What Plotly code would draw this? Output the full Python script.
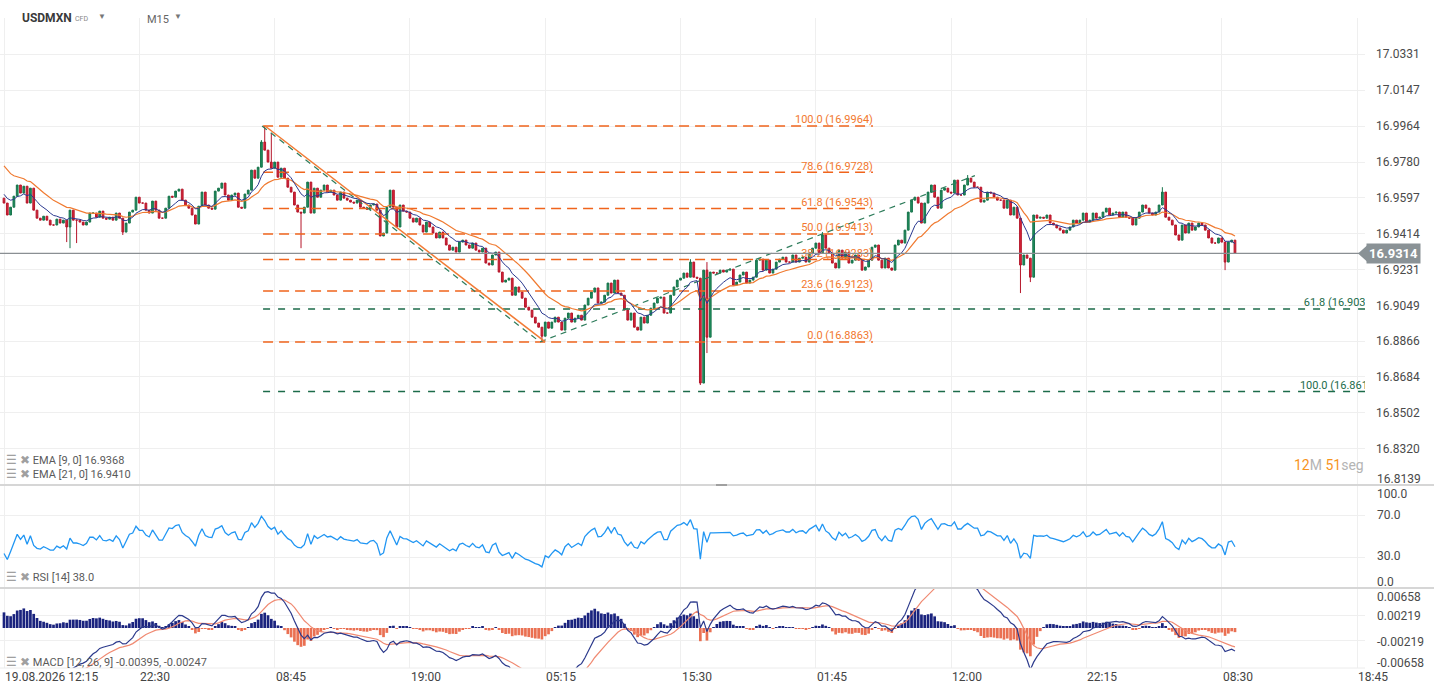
import numpy as np
import plotly.graph_objects as go

# ---------------- data ----------------
closes_a = [16.9571,16.9510,16.9550,16.9606,16.9663,16.9622,16.9657,16.9571,16.9647,16.9535,
16.9494,16.9484,16.9504,16.9484,16.9459,16.9459,16.9489,16.9469,16.9484,16.9449,
16.9535,16.9484,16.9484,16.9474,16.9459,16.9474,16.9520,16.9520,16.9499,16.9530,
16.9494,16.9489,16.9499,16.9484,16.9520,16.9494,16.9423,16.9469,16.9525,16.9535,
16.9601,16.9571,16.9571,16.9535,16.9520,16.9581,16.9535,16.9494,16.9494,16.9545,
16.9606,16.9601,16.9632,16.9642,16.9586,16.9561,16.9545,16.9510,16.9464,16.9555,
16.9627,16.9561,16.9545]
closes_b = [16.9540,16.9632,16.9647,16.9673,16.9612,16.9586,16.9612,16.9622,16.9550,16.9545,16.9617,16.9637,16.9739,16.9698,16.9754,16.9882,
16.9841,16.9780,16.9749,16.9780,16.9703,16.9749,16.9698,16.9652,16.9627,16.9561,16.9525,16.9520,16.9550,16.9678,16.9520,16.9647,
16.9601,16.9637,16.9663,16.9627,16.9637,16.9612,16.9586,16.9627,16.9596,16.9586,16.9576,16.9571,16.9586,16.9550,16.9545,16.9540,16.9561,16.9566,16.9535,
16.9403,16.9418,16.9550,16.9637,16.9550,16.9449,16.9561,16.9530,16.9525]
closes_c = [16.9494,16.9474,16.9494,16.9459,16.9423,16.9474,16.9449,16.9418,16.9393,16.9423,
16.9393,16.9357,16.9331,16.9346,16.9321,16.9372,16.9382,16.9357,16.9341,16.9367,
16.9331,16.9321,16.9341,16.9265,16.9255,16.9306,16.9321,16.9219,16.9168,16.9178,
16.9188,16.9101,16.9143,16.9117,16.9086,16.9040,16.9025,16.8989,16.8959,16.8938,
16.8892,16.8964,16.8933,16.8964,16.8989,16.8964,16.8923,16.8984,16.9010,16.8964,
16.8984,16.8999,16.8974,16.9051,16.9086,16.9117,16.9138,16.9061,16.9066,16.9101]
closes_d = [16.9163,16.9112,16.9178,16.9112,16.9101,16.9025,16.8974,16.9010,16.8938,16.8923,16.8989,16.8959,16.8999,16.9035,
16.9061,16.9086,16.9091,16.9010,16.9010,16.9101,16.9143,16.9178,16.9188,16.9214,16.9193,16.9270,16.9193,16.9188,
16.8653,16.9229,16.8887,16.9219,
16.9214,16.9214,16.9229,16.9219,16.9229,16.9234,16.9153,16.9168,16.9204,16.9219,16.9163,16.9178,16.9193,16.9280,16.9285,16.9229,
16.9280,16.9214,16.9234,16.9270,16.9285,16.9295,16.9270,16.9270,16.9306,16.9270,16.9290,16.9295,16.9270,16.9316,16.9341,16.9367,16.9316]
closes_e = [16.9408,16.9341,16.9316,16.9265,16.9240,16.9331,16.9290,16.9321,16.9265,16.9280,
16.9306,16.9280,16.9229,16.9245,16.9280,16.9346,16.9357,16.9280,16.9240,16.9290,
16.9240,16.9229,16.9357,16.9382,16.9367,16.9433,16.9525,16.9586,16.9601,16.9571,
16.9469,16.9571,16.9627,16.9663,16.9601,16.9545,16.9637,16.9647,16.9627,16.9622,
16.9688,16.9612,16.9612,16.9663,
16.9698,16.9678,16.9652,16.9652,16.9576,16.9586,16.9627,16.9622,16.9601,16.9586,
16.9586,16.9545,16.9586,16.9510,16.9550,16.9494,16.9255]
closes_f = [16.9306,16.9290,16.9193,16.9510,16.9494,16.9499,16.9494,16.9510,16.9469,16.9459,
16.9444,16.9433,16.9418,16.9433,16.9449,16.9484,16.9469,16.9484,16.9520,16.9474,
16.9484,16.9520,16.9494,16.9499,16.9525,16.9545,16.9510,16.9520,16.9525,16.9499,
16.9525,16.9499,16.9494,16.9459,16.9494,16.9525,16.9561,16.9545,16.9520,16.9510,
16.9525,16.9561,
16.9627,16.9499,16.9484,16.9459,16.9408,16.9382,16.9459,16.9418,16.9469,16.9433,
16.9449,16.9469,16.9459,16.9433,16.9393,16.9367,16.9367,16.9393,16.9372,16.9270,
16.9372,16.9382,16.9314]
closes = closes_a + closes_b + closes_c + closes_d + closes_e + closes_f
first_open = 16.9596

wick_bar  = [19, 20, 22, 36, 78, 79, 81, 90, 163, 208, 211, 213, 248, 292, 308, 311, 351, 370]
wick_high = [None, None, None, None, 16.9892, 16.9964, 16.9928, None, None, 16.9285, None, 16.9270,
             16.9423, 16.9714, None, None, 16.9652, None]
wick_low  = [16.9372, 16.9341, 16.9367, 16.9408, None, None, None, 16.9341, 16.8863, None, 16.8643,
             16.8806, None, None, 16.9112, 16.9168, None, 16.9229]

time_ticks = [0, 41, 82, 123, 164, 205, 246, 287, 328, 369, 410]
time_labels = ["19.08.2026 12:15", "22:30", "08:45", "19:00", "05:15", "15:30",
               "01:45", "12:00", "22:15", "08:30", "18:45"]
price_ticks = [17.0331, 17.0147, 16.9964, 16.9780, 16.9597, 16.9414, 16.9231,
               16.9049, 16.8866, 16.8684, 16.8502, 16.8320, 16.8139]
last_price = 16.9314

fib_pct = [100.0, 78.6, 61.8, 50.0, 38.2, 23.6, 0.0]
fib_price = [16.9964, 16.9728, 16.9543, 16.9413, 16.9283, 16.9123, 16.8863]
fib_bars = [78.5, 263.3]
trend_bars = [79.1, 164.0]
trend_prices = [16.9964, 16.8863]
swing_bars = [78.2, 162.4, 294.2]
swing_prices = [16.9964, 16.8863, 16.9711]
ext_pct = [61.8, 100.0]
ext_price = [16.9031, 16.8610]
ext_label_bars = [415.6, 416.3]

# indicator seeds (state just before the first visible bar)
ema9_seed, ema21_seed = 16.9627, 16.9780
ema12_seed, ema26_seed, signal_seed = 16.9670, 16.9820, -0.0180
rsi_gain_seed, rsi_loss_seed = 0.00080, 0.00140

legend_ema9 = "EMA [9, 0] 16.9368"
legend_ema21 = "EMA [21, 0] 16.9410"
legend_rsi = "RSI [14] 38.0"
legend_macd = "MACD [12, 26, 9] -0.00395, -0.00247"

# ---------------- derived series ----------------
n = len(closes)
bars = list(range(n))
opens = [first_open] + closes[:-1]
highs = [max(o, c) for o, c in zip(opens, closes)]
lows = [min(o, c) for o, c in zip(opens, closes)]
for b, h, l in zip(wick_bar, wick_high, wick_low):
    if h is not None:
        highs[b] = max(highs[b], h)
    if l is not None:
        lows[b] = min(lows[b], l)


def ema(values, period, seed):
    a = 2.0 / (period + 1)
    e = seed
    out = []
    for v in values:
        e = e + a * (v - e)
        out.append(e)
    return np.array(out)


ema9 = ema(closes, 9, ema9_seed)
ema21 = ema(closes, 21, ema21_seed)
macd = ema(closes, 12, ema12_seed) - ema(closes, 26, ema26_seed)
signal = ema(macd, 9, signal_seed)
hist = macd - signal

rsi = []
ag, al = rsi_gain_seed, rsi_loss_seed
prev = first_open
for c in closes:
    ch = c - prev
    ag = (ag * 13 + max(ch, 0)) / 14
    al = (al * 13 + max(-ch, 0)) / 14
    rsi.append(100 - 100 / (1 + ag / al) if al > 0 else 100)
    prev = c

# ---------------- figure ----------------
W, H = 1434, 694
PLOT_R = 1365


def py(ypx):
    return 1 - ypx / H


def px(xpx):
    return xpx / W


ORANGE = "#f0641c"
ORANGE_T = "#f2782e"
DGREEN = "#1c6b4a"
fig = go.Figure()

# fib retracement lines
for pct, pr in zip(fib_pct, fib_price):
    fig.add_trace(go.Scatter(x=fib_bars, y=[pr, pr], mode="lines",
                             line=dict(color=ORANGE, width=1.5, dash="10px,6px"),
                             hoverinfo="skip", yaxis="y"))
fig.add_trace(go.Scatter(x=[fib_bars[1]] * len(fib_price), y=fib_price, mode="text",
                         text=[f"{p:.1f} ({v:.4f})" for p, v in zip(fib_pct, fib_price)],
                         textposition="top left", textfont=dict(color=ORANGE_T, size=11),
                         hoverinfo="skip", yaxis="y"))
# extension lines
for pct, pr in zip(ext_pct, ext_price):
    fig.add_trace(go.Scatter(x=[fib_bars[0], 413], y=[pr, pr], mode="lines",
                             line=dict(color=DGREEN, width=1.4, dash="7px,8px"),
                             hoverinfo="skip", yaxis="y"))
fig.add_trace(go.Scatter(x=ext_label_bars, y=ext_price, mode="text",
                         text=[f"{p:.1f} ({v:.4f})" for p, v in zip(ext_pct, ext_price)],
                         textposition="top left", textfont=dict(color=DGREEN, size=11),
                         hoverinfo="skip", yaxis="y"))
# swing lines
fig.add_trace(go.Scatter(x=swing_bars, y=swing_prices, mode="lines",
                         line=dict(color="#2f7d5c", width=1.2, dash="6px,5px"),
                         hoverinfo="skip", yaxis="y"))
fig.add_trace(go.Scatter(x=trend_bars, y=trend_prices, mode="lines",
                         line=dict(color="#f27b35", width=1.5),
                         hoverinfo="skip", yaxis="y"))

# candles
fig.add_trace(go.Candlestick(x=bars, open=opens, high=highs, low=lows, close=closes,
                             increasing=dict(line=dict(color="#17744b", width=1), fillcolor="#1f9060"),
                             decreasing=dict(line=dict(color="#b5162a", width=1), fillcolor="#d9263a"),
                             whiskerwidth=0, hoverinfo="skip", yaxis="y"))
fig.add_trace(go.Scatter(x=bars, y=ema21, mode="lines", line=dict(color="#f07a30", width=1.2),
                         hoverinfo="skip", yaxis="y"))
fig.add_trace(go.Scatter(x=bars, y=ema9, mode="lines", line=dict(color="#2b3990", width=1),
                         hoverinfo="skip", yaxis="y"))
fig.add_trace(go.Scatter(x=[-2, 413], y=[last_price, last_price], mode="lines",
                         line=dict(color="#8a8f93", width=1.2), hoverinfo="skip", yaxis="y"))

# RSI
fig.add_trace(go.Scatter(x=bars, y=rsi, mode="lines", line=dict(color="#2196f3", width=1.3),
                         hoverinfo="skip", yaxis="y2"))
# MACD
fig.add_trace(go.Bar(x=bars, y=hist, marker=dict(color=["#1a237e" if h >= 0 else "#ea7052" for h in hist],
                                                 line=dict(width=0)),
                     width=0.82, hoverinfo="skip", yaxis="y3"))
fig.add_trace(go.Scatter(x=bars, y=signal, mode="lines", line=dict(color="#f08a72", width=1.2),
                         hoverinfo="skip", yaxis="y3"))
fig.add_trace(go.Scatter(x=bars, y=macd, mode="lines", line=dict(color="#2c3a8c", width=1.2),
                         hoverinfo="skip", yaxis="y3"))

xdom = [0, PLOT_R / W]
grid = "#efefef"
fig.update_layout(
    width=W, height=H, margin=dict(l=0, r=0, t=0, b=0),
    paper_bgcolor="white", plot_bgcolor="white", showlegend=False,
    font=dict(family="Roboto", size=12, color="#4a4a4a"),
    barmode="overlay", boxgap=0.25,
    xaxis=dict(domain=xdom, range=[-1.212, 412.4], tickvals=time_ticks, showticklabels=False,
               showgrid=True, gridcolor=grid, zeroline=False, showline=False, ticks="",
               rangeslider=dict(visible=False), anchor="y3"),
    yaxis=dict(domain=[py(485), py(18)], range=[16.8133, 17.0515], side="right", anchor="x",
               tickvals=price_ticks[:-1], ticktext=[f"{v:.4f}" for v in price_ticks[:-1]],
               showgrid=True, gridcolor=grid, zeroline=False, ticks="", ticklabelstandoff=10,
               tickfont=dict(size=12, color="#4a4a4a")),
    yaxis2=dict(domain=[py(588), py(485)], range=[0, 100], side="right", anchor="x",
                tickvals=[70, 30], showticklabels=False, showgrid=True, gridcolor=grid,
                zeroline=False, ticks=""),
    yaxis3=dict(domain=[py(668), py(588)], range=[-0.0068, 0.0068], side="right", anchor="x",
                tickvals=[0.00219, -0.00219], showticklabels=False, showgrid=True, gridcolor=grid,
                zeroline=False, ticks=""),
)

ann = []
# x labels
for b, t in zip(time_ticks, time_labels):
    ann.append(dict(x=b, xref="x", y=py(677), yref="paper", text=t, showarrow=False,
                    xanchor="left", yanchor="middle", xshift=-1,
                    font=dict(size=12, color="#444")))
# indicator axis labels (+ the bottom main label, kept inside its panel)
for txt, ypx in [(f"{price_ticks[-1]:.4f}", 479), ("100.0", 494), ("70.0", 515), ("30.0", 556),
                 ("0.0", 582), ("0.00658", 597), ("0.00219", 616), ("-0.00219", 642),
                 ("-0.00658", 663)]:
    ann.append(dict(x=px(1375), xref="paper", y=py(ypx), yref="paper", text=txt, showarrow=False,
                    xanchor="left", yanchor="middle", font=dict(size=12, color="#4a4a4a")))
# current price tag
ann.append(dict(x=px(1366), xref="paper", y=last_price, yref="y", text="<b>16.9314</b>",
                showarrow=False, xanchor="left", yanchor="middle", bgcolor="#8a9296",
                borderpad=2, font=dict(size=13, color="white")))
# header
ann += [
    dict(x=px(20), y=py(18), text="<b>USDMXN</b>", font=dict(size=12, color="#3a3a3a")),
    dict(x=px(73), y=py(19), text="CFD", font=dict(size=7, color="#888")),
    dict(x=px(96), y=py(17), text="▼", font=dict(size=8, color="#777")),
    dict(x=px(145), y=py(19), text="M15", font=dict(size=11, color="#666")),
    dict(x=px(172), y=py(17), text="▼", font=dict(size=8, color="#777")),
]
# indicator legends
for txt, ypx in [(legend_ema9, 460), (legend_ema21, 474), (legend_rsi, 577), (legend_macd, 662)]:
    ann.append(dict(x=px(4), y=py(ypx),
                    text="<span style='color:#a0a0a0;font-size:12px'>☰ ✖</span> " + txt,
                    font=dict(size=11, color="#5a5a5a")))
# countdown
ann.append(dict(x=px(1366), y=py(465), xanchor="right",
                text="<span style='color:#f7941d'>12</span><span style='color:#b4b4b4'>M </span>"
                     "<span style='color:#f7941d'>51</span><span style='color:#b4b4b4'>seg</span>",
                font=dict(size=14)))
for a in ann:
    a.setdefault("xref", "paper")
    a.setdefault("yref", "paper")
    a.setdefault("showarrow", False)
    a.setdefault("xanchor", "left")
    a.setdefault("yanchor", "middle")
fig.update_layout(annotations=ann)

tri_h = 0.0041
shapes = [
    dict(type="line", xref="paper", yref="paper", x0=0, x1=1, y0=py(485), y1=py(485),
         line=dict(color="#d6d6d6", width=2)),
    dict(type="line", xref="paper", yref="paper", x0=0, x1=1, y0=py(588), y1=py(588),
         line=dict(color="#d6d6d6", width=2)),
    dict(type="line", xref="paper", yref="paper", x0=px(716), x1=px(727), y0=py(485), y1=py(485),
         line=dict(color="#a0a0a0", width=2)),
    dict(type="line", xref="paper", yref="paper", x0=0, x1=px(PLOT_R), y0=py(668), y1=py(668),
         line=dict(color="#ececec", width=1)),
    dict(type="path", xref="paper", yref="y",
         path=f"M {px(1358)},{last_price} L {px(1367)},{last_price + tri_h} "
              f"L {px(1367)},{last_price - tri_h} Z",
         fillcolor="#8a9296", line=dict(width=0)),
]
fig.update_layout(shapes=shapes)

fig.write_html("out.html", config={"displayModeBar": False},
               post_script="document.body.style.margin='0';document.body.style.overflow='hidden';")
